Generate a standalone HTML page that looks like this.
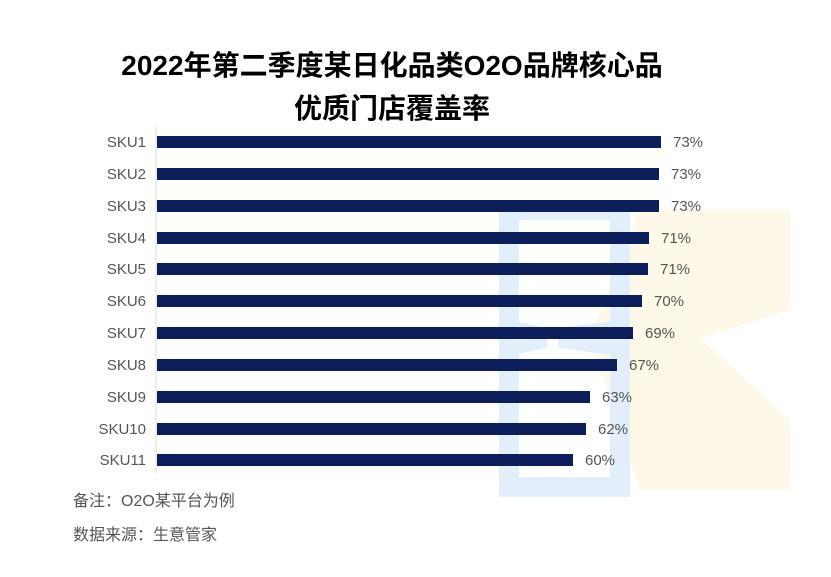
<!DOCTYPE html>
<html><head><meta charset="utf-8"><style>
body{margin:0;width:831px;height:577px;background:#fff;overflow:hidden;position:relative;font-family:"Liberation Sans","Noto Sans CJK SC",sans-serif}
.t{position:absolute;left:0;width:784px;text-align:center;font-weight:bold;font-size:28px;color:#000}
.lab{position:absolute;left:56px;width:90px;text-align:right;font-size:15px;color:#555}
.bar{position:absolute;left:157px;height:12px;background:#0c1f5c}
.v{position:absolute;font-size:15px;color:#555}
.n{position:absolute;left:73px;font-size:16px;color:#555}
</style></head><body>
<svg style="position:absolute;left:0;top:0" width="831" height="577">
<polygon points="640,210 790,210 790,310 700,338 790,420 790,490 640,490 590,338" fill="#fef6e4" opacity="0.8"/>
<path d="M509,210 H620 V330 L560,338 L620,346 V487 H509 V346 L545,338 L509,330 Z" fill="none" stroke="#e2effa" stroke-width="20"/>
<line x1="156" y1="127" x2="156" y2="473" stroke="#ddd" stroke-width="1"/>
</svg>
<div class="t" style="top:44px">2022年第二季度某日化品类O2O品牌核心品</div>
<div class="t" style="top:87px">优质门店覆盖率</div>
<div class="lab" style="top:134px">SKU1</div><div class="bar" style="top:136px;width:504px"></div><div class="v" style="left:673px;top:134px">73%</div>
<div class="lab" style="top:166px">SKU2</div><div class="bar" style="top:168px;width:502px"></div><div class="v" style="left:671px;top:166px">73%</div>
<div class="lab" style="top:198px">SKU3</div><div class="bar" style="top:200px;width:502px"></div><div class="v" style="left:671px;top:198px">73%</div>
<div class="lab" style="top:230px">SKU4</div><div class="bar" style="top:232px;width:492px"></div><div class="v" style="left:661px;top:230px">71%</div>
<div class="lab" style="top:261px">SKU5</div><div class="bar" style="top:263px;width:491px"></div><div class="v" style="left:660px;top:261px">71%</div>
<div class="lab" style="top:293px">SKU6</div><div class="bar" style="top:295px;width:485px"></div><div class="v" style="left:654px;top:293px">70%</div>
<div class="lab" style="top:325px">SKU7</div><div class="bar" style="top:327px;width:476px"></div><div class="v" style="left:645px;top:325px">69%</div>
<div class="lab" style="top:357px">SKU8</div><div class="bar" style="top:359px;width:460px"></div><div class="v" style="left:629px;top:357px">67%</div>
<div class="lab" style="top:389px">SKU9</div><div class="bar" style="top:391px;width:433px"></div><div class="v" style="left:602px;top:389px">63%</div>
<div class="lab" style="top:421px">SKU10</div><div class="bar" style="top:423px;width:429px"></div><div class="v" style="left:598px;top:421px">62%</div>
<div class="lab" style="top:452px">SKU11</div><div class="bar" style="top:454px;width:416px"></div><div class="v" style="left:585px;top:452px">60%</div>
<div class="n" style="top:487px">备注：O2O某平台为例</div>
<div class="n" style="top:521px">数据来源：生意管家</div>
</body></html>
